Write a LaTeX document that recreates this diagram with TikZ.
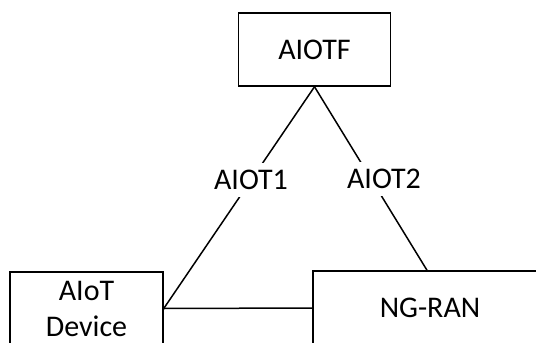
\documentclass[tikz,border=0pt]{standalone}
\usepackage{fontspec}
\setmainfont{Carlito}
\begin{document}
\begin{tikzpicture}[x=1pt,y=-1pt,
  box/.style={draw,line width=1.5pt,rectangle,inner sep=0pt,font=\fontsize{30}{36}\selectfont,align=center},
  lbl/.style={fill=white,inner xsep=2pt,inner ysep=7pt,font=\fontsize{30}{36}\selectfont},
  conn/.style={line width=1.5pt}]
\useasboundingbox (0,0) rectangle (536,343);
\clip (0,0) rectangle (536,343);
\node[box,minimum width=152pt,minimum height=73pt] (aiotf) at (314.5,49.5) {AIOTF};
\node[box,minimum width=153pt,minimum height=73pt] (dev) at (86.5,308.5) {AIoT\\Device};
\node[box,minimum width=234pt,minimum height=74pt] (ran) at (430,308) {NG-RAN};
\draw[conn] (aiotf.south) -- (dev.east);
\draw[conn] (aiotf.south) -- ([xshift=-3pt]ran.north);
\draw[conn] (dev.east) -- (ran.west);
\node[lbl] (l1) at (251,180) {AIOT1};
\node[lbl] (l2) at (384,179) {AIOT2};
\end{tikzpicture}
\end{document}
